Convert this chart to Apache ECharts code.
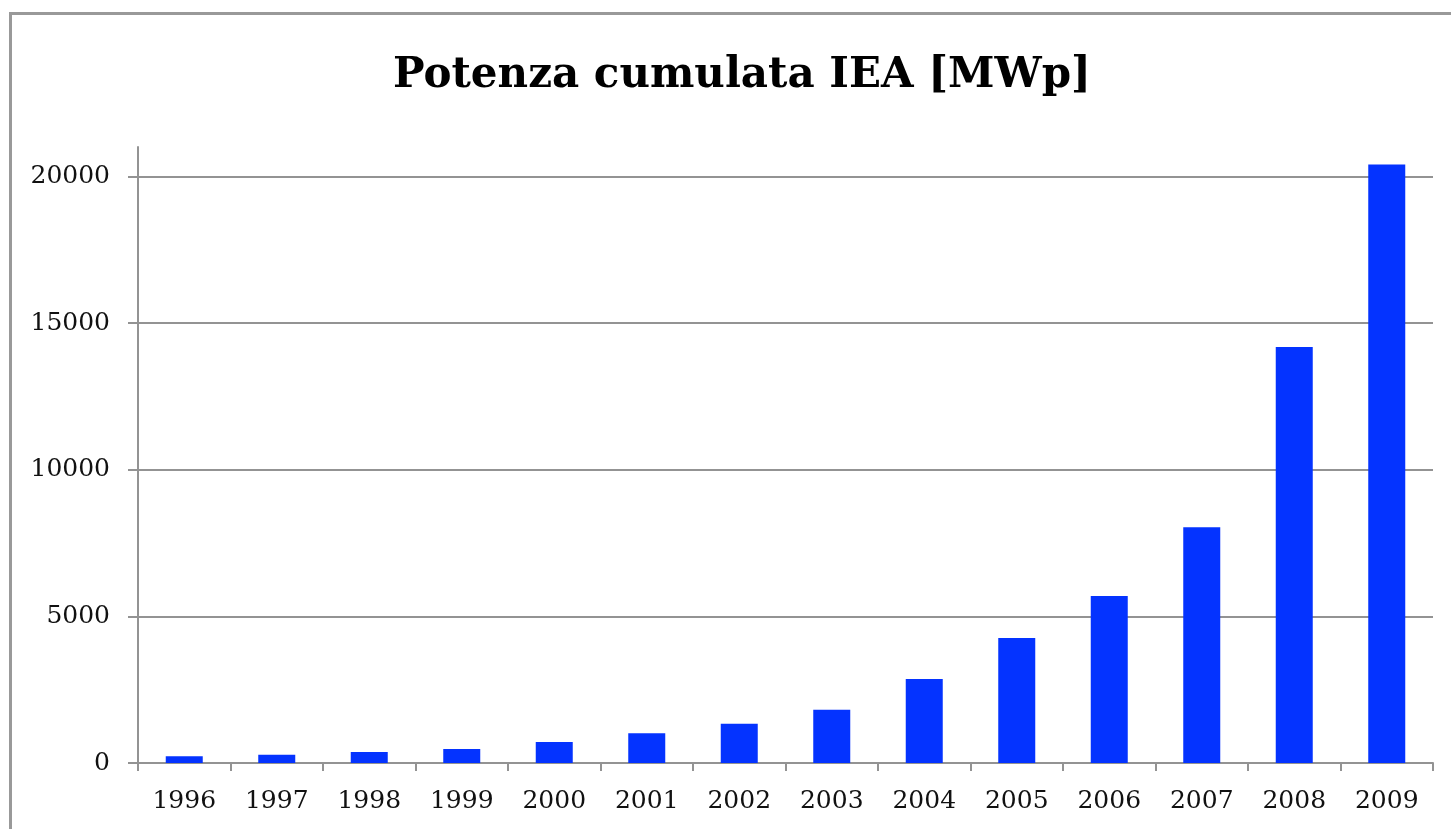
<!DOCTYPE html>
<html>
<head>
<meta charset="utf-8">
<title>Potenza cumulata IEA</title>
<script src="https://cdn.jsdelivr.net/npm/echarts@6/dist/echarts.min.js"></script>
<style>
    html, body { margin: 0; padding: 0; background: #fff; }
    #frame {
        position: absolute; left: 9px; top: 12px; right: 0; bottom: 0;
        border-top: 3px solid #999; border-left: 3px solid #999;
    }
    #chart { position: absolute; left: 0; top: 0; width: 1451px; height: 829px; }
</style>
</head>
<body>
<div id="frame"></div>
<div id="chart"></div>
<script>
// anni e potenza cumulata (MWp)
var years = ['1996', '1997', '1998', '1999', '2000', '2001', '2002',
             '2003', '2004', '2005', '2006', '2007', '2008', '2009'];
var power = [228, 283, 375, 477, 715, 1012, 1340,
             1817, 2862, 4259, 5690, 8041, 14184, 20400];
var yTicks = [0, 5000, 10000, 15000, 20000];

var font = 'DejaVu Serif';
var chart = echarts.init(document.getElementById('chart'));
chart.setOption({
    animation: false,
    title: {
        text: 'Potenza cumulata IEA [MWp]',
        left: 388,
        top: 50,
        textStyle: { fontFamily: font, fontSize: 42, fontWeight: 'bold', color: '#000' }
    },
    grid: { left: 138, right: 18, top: 147, bottom: 66 },
    xAxis: {
        type: 'category',
        data: years,
        axisLine: { lineStyle: { color: '#939393', width: 2 } },
        axisTick: { show: true, length: 8, lineStyle: { color: '#939393', width: 2 } },
        axisLabel: { margin: 26, fontFamily: font, fontSize: 25, color: '#111' }
    },
    yAxis: {
        type: 'value',
        min: 0,
        max: 21000,
        interval: 5000,
        axisLine: { show: true, lineStyle: { color: '#939393', width: 2 } },
        axisTick: { show: true, length: 10, customValues: yTicks, lineStyle: { color: '#939393', width: 2 } },
        axisLabel: {
            margin: 28, fontFamily: font, fontSize: 25, color: '#111',
            customValues: yTicks,
            formatter: function (v) { return String(v); }
        },
        splitLine: { show: true, lineStyle: { color: '#939393', width: 2 } }
    },
    series: [{
        type: 'bar',
        data: power,
        barWidth: 37,
        itemStyle: { color: '#0433ff' }
    }]
});
</script>
</body>
</html>
